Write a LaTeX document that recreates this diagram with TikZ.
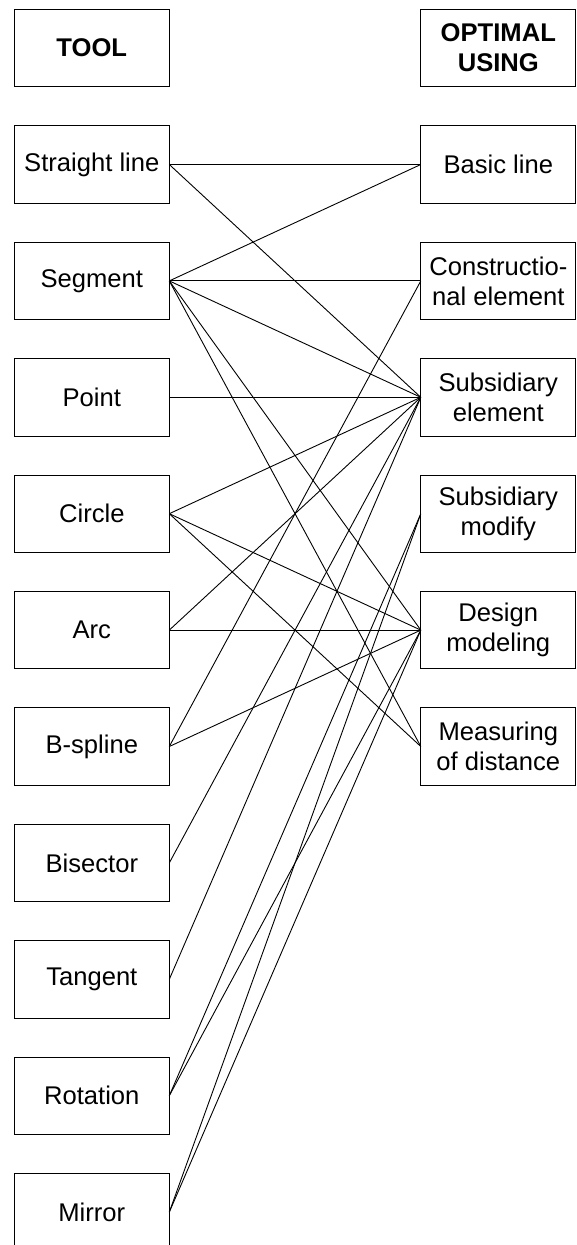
\documentclass[tikz,border=0pt]{standalone}
\usepackage{fontspec}
\setmainfont{Liberation Sans}
\begin{document}
\begin{tikzpicture}[x=1pt,y=-1pt,
  box/.style={draw, line width=0.9pt, minimum width=155pt, minimum height=77.5pt, inner sep=0pt, outer sep=0pt, align=center, font=\fontsize{25.6}{30}\selectfont},
  hdr/.style={box, font=\fontsize{25.6}{30}\selectfont\bfseries},
  link/.style={line width=0.9pt}]
\useasboundingbox (0,0) rectangle (576,1245);
\def\lx{91.8}
\def\rx{498.3}
\node[hdr] (tool) at (\lx,48.1) {TOOL};
\node[hdr] (opt) at (\rx,48.1) {OPTIMAL\\USING};
\node[box] (s) at (\lx,164.5) {Straight line};
\node[box] (seg) at (\lx,280.9) {Segment};
\node[box] (pt) at (\lx,397.3) {Point};
\node[box] (ci) at (\lx,513.7) {Circle};
\node[box] (arc) at (\lx,630.1) {Arc};
\node[box] (bs) at (\lx,746.5) {B-spline};
\node[box] (bis) at (\lx,862.9) {Bisector};
\node[box] (tan) at (\lx,979.3) {Tangent};
\node[box] (rot) at (\lx,1095.7) {Rotation};
\node[box] (mir) at (\lx,1212.1) {Mirror};
\node[box] (basic) at (\rx,164.5) {Basic line};
\node[box] (con) at (\rx,280.9) {Constructio-\\nal element};
\node[box] (se) at (\rx,397.3) {Subsidiary\\element};
\node[box] (sm) at (\rx,513.7) {Subsidiary\\modify};
\node[box] (dm) at (\rx,630.1) {Design\\modeling};
\node[box] (md) at (\rx,746.5) {Measuring\\of distance};
\draw[link] (s.east) -- (basic.west);
\draw[link] (s.east) -- (se.west);
\draw[link] (seg.east) -- (basic.west);
\draw[link] (seg.east) -- (con.west);
\draw[link] (seg.east) -- (se.west);
\draw[link] (seg.east) -- (dm.west);
\draw[link] (seg.east) -- (md.west);
\draw[link] (pt.east) -- (se.west);
\draw[link] (ci.east) -- (se.west);
\draw[link] (ci.east) -- (dm.west);
\draw[link] (ci.east) -- (md.west);
\draw[link] (arc.east) -- (se.west);
\draw[link] (arc.east) -- (dm.west);
\draw[link] (bs.east) -- (con.west);
\draw[link] (bs.east) -- (dm.west);
\draw[link] (bis.east) -- (se.west);
\draw[link] (tan.east) -- (se.west);
\draw[link] (rot.east) -- (sm.west);
\draw[link] (rot.east) -- (dm.west);
\draw[link] (mir.east) -- (sm.west);
\draw[link] (mir.east) -- (dm.west);
\end{tikzpicture}
\end{document}
